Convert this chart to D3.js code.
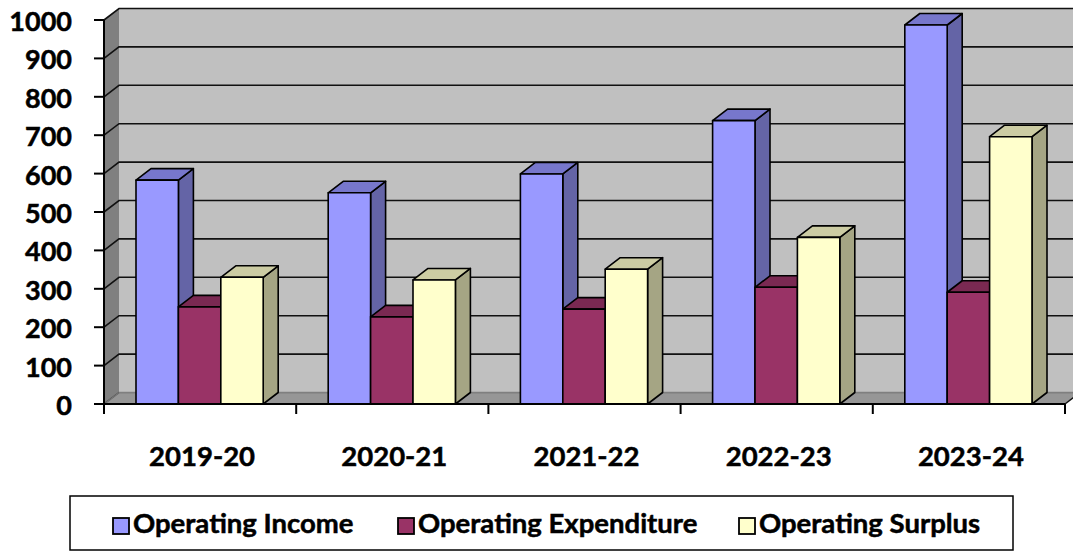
<!DOCTYPE html>
<html>
<head>
<meta charset="utf-8">
<script src="https://cdn.jsdelivr.net/npm/d3@7/dist/d3.min.js"></script>
<style>
  html, body { margin: 0; padding: 0; background: #fff; }
  svg text { font-family: Lato, "Open Sans", sans-serif; font-weight: bold; fill: #000; stroke: #000; stroke-width: 0.5px; }
</style>
</head>
<body>
<svg id="chart" width="1073" height="551"></svg>
<script>
// chart data
const years = ["2019-20", "2020-21", "2021-22", "2022-23", "2023-24"];
const seriesNames = ["Operating Income", "Operating Expenditure", "Operating Surplus"];
const income = [583, 550, 599, 738, 987];
const expenditure = [253, 227, 247, 304, 291];
const surplus = [330, 323, 351, 434, 696];
const yTicks = [0, 100, 200, 300, 400, 500, 600, 700, 800, 900, 1000];

// face colours per series: front, top, side
const colors = [
    {front: "#9999FF", top: "#7777CC", side: "#6464A6"},
    {front: "#993366", top: "#7A2952", side: "#632142"},
    {front: "#FFFFCC", top: "#CCCCA3", side: "#A5A584"}
];

const svg = d3.select("#chart");
const dx = 15, dy = -11.5;   // depth offset of the 3d box
const plotLeft = 104, plotRight = 1065, plotBottom = 404, plotTop = 20;

const x = d3.scaleBand().domain(years).range([plotLeft, plotRight]).paddingInner(0).paddingOuter(0);
const xs = d3.scaleBand().domain(seriesNames).range([32, x.bandwidth() - 33]).padding(0);
const y = d3.scaleLinear().domain([0, 1000]).range([plotBottom, plotTop]);

const rows = years.map((yr, i) => ({year: yr, vals: [income[i], expenditure[i], surplus[i]]}));

const pts = p => p.map(d => d.join(",")).join(" ");

// walls
svg.append("polygon") // back wall
    .attr("points", pts([[plotLeft+dx, y(1000)+dy], [plotRight+dx+20, y(1000)+dy], [plotRight+dx+20, y(0)+dy], [plotLeft+dx, y(0)+dy]]))
    .attr("fill", "#C0C0C0");
svg.append("polygon") // side wall
    .attr("points", pts([[plotLeft, y(1000)], [plotLeft+dx, y(1000)+dy], [plotLeft+dx, y(0)+dy], [plotLeft, y(0)]]))
    .attr("fill", "#808080");
svg.append("polygon") // floor
    .attr("points", pts([[plotLeft, y(0)], [plotRight, y(0)], [plotRight+dx, y(0)+dy], [plotLeft+dx, y(0)+dy]]))
    .attr("fill", "#969696");

// gridlines: diagonal on side wall, then across back wall
const grid = svg.append("g").attr("stroke", "#111").attr("stroke-width", 1.6).attr("fill", "none");
yTicks.forEach(t => {
    grid.append("polyline")
        .attr("points", pts([[plotLeft, y(t)], [plotLeft+dx, y(t)+dy], [plotRight+dx+20, y(t)+dy]]))
        .attr("stroke-opacity", t === 0 ? 0.35 : 1);
});
// floor right edge
svg.append("line")
    .attr("x1", plotRight).attr("y1", y(0)).attr("x2", plotRight+dx).attr("y2", y(0)+dy)
    .attr("stroke", "#111").attr("stroke-width", 1.5);

// bars
const barG = svg.append("g").attr("stroke", "#000").attr("stroke-width", 1.6).attr("stroke-linejoin", "round");
rows.forEach(r => {
    r.vals.forEach((v, s) => {
        const x0 = x(r.year) + xs(seriesNames[s]);
        const x1 = x0 + xs.bandwidth();
        const yt = y(v), yb = y(0);
        const c = colors[s];
        barG.append("polygon")
            .attr("points", pts([[x1, yt], [x1+dx, yt+dy], [x1+dx, yb+dy], [x1, yb]]))
            .attr("fill", c.side);
        barG.append("polygon")
            .attr("points", pts([[x0, yt], [x0+dx, yt+dy], [x1+dx, yt+dy], [x1, yt]]))
            .attr("fill", c.top);
        barG.append("rect")
            .attr("x", x0).attr("y", yt).attr("width", x1 - x0).attr("height", yb - yt)
            .attr("fill", c.front);
    });
});

// value axis
const yAxis = svg.append("g").attr("stroke", "#000").attr("stroke-width", 2);
yAxis.append("line").attr("x1", plotLeft).attr("x2", plotLeft).attr("y1", y(1000)).attr("y2", y(0));
yTicks.forEach(t => {
    yAxis.append("line").attr("x1", plotLeft - 10).attr("x2", plotLeft).attr("y1", y(t)).attr("y2", y(t));
});
svg.append("g").selectAll("text").data(yTicks).join("text")
    .attr("x", 72).attr("y", d => y(d) + 11)
    .attr("text-anchor", "end")
    .attr("font-size", 27)
    .text(d => d);

// category axis
const xAxis = svg.append("g").attr("stroke", "#000").attr("stroke-width", 2);
xAxis.append("line").attr("x1", plotLeft).attr("x2", plotRight).attr("y1", y(0)).attr("y2", y(0));
[plotLeft].concat(years.map(yr => x(yr) + x.bandwidth())).forEach(px => {
    xAxis.append("line").attr("x1", px).attr("x2", px).attr("y1", y(0)).attr("y2", y(0) + 10);
});
svg.append("g").selectAll("text").data(years).join("text")
    .attr("x", d => x(d) + x.bandwidth() / 2 + 2)
    .attr("y", 466)
    .attr("text-anchor", "middle")
    .attr("font-size", 27.5)
    .text(d => d);

// legend
const legend = svg.append("g");
legend.append("rect")
    .attr("x", 70).attr("y", 496).attr("width", 943).attr("height", 54)
    .attr("fill", "#fff").attr("stroke", "#000").attr("stroke-width", 1.5);
const legendX = [112, 397, 738];
seriesNames.forEach((n, i) => {
    legend.append("rect")
        .attr("x", legendX[i] + 1).attr("y", 518).attr("width", 16).attr("height", 16)
        .attr("fill", colors[i].front).attr("stroke", "#000").attr("stroke-width", 1.8);
    legend.append("text")
        .attr("x", legendX[i] + 21).attr("y", 533)
        .attr("font-size", 27.5)
        .text(n);
});
</script>
</body>
</html>
